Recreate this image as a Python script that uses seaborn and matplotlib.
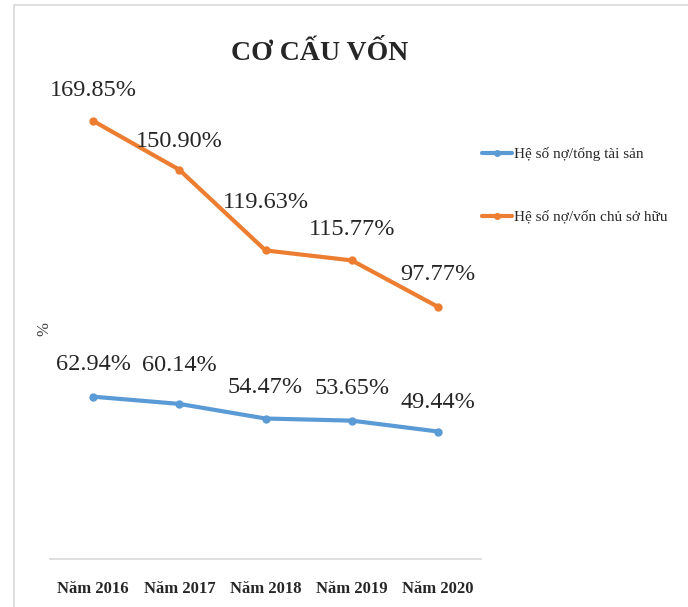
import matplotlib
matplotlib.use("Agg")
import matplotlib.pyplot as plt
import seaborn as sns
import pandas as pd
from matplotlib.patches import Rectangle

# Chart data
years = ["Năm 2016", "Năm 2017", "Năm 2018", "Năm 2019", "Năm 2020"]
debt_to_assets = [62.94, 60.14, 54.47, 53.65, 49.44]
debt_to_equity = [169.85, 150.90, 119.63, 115.77, 97.77]
series_names = ["Hệ số nợ/tổng tài sản", "Hệ số nợ/vốn chủ sở hữu"]
colors = ["#5B9BD5", "#ED7D31"]

# label offsets above each point (pixels), as placed in the original chart
assets_label_px = [22, 28, 21, 22, 19]
equity_label_px = [20, 18, 37, 20, 22]

df = pd.concat([
    pd.DataFrame({"Năm": years, "value": debt_to_assets, "series": series_names[0]}),
    pd.DataFrame({"Năm": years, "value": debt_to_equity, "series": series_names[1]}),
])

sns.set_style("white")
plt.rcParams["font.family"] = ["Liberation Serif", "DejaVu Serif"]

fig = plt.figure(figsize=(6.88, 6.07), dpi=100)
ax = fig.add_axes([0.0727, 0.079, 0.6265, 0.85])

sns.lineplot(data=df, x="Năm", y="value", hue="series", palette=colors,
             marker="o", markersize=6, markeredgewidth=0, linewidth=3,
             sort=False, ax=ax, legend=False)

ax.set_xlim(-0.5, len(years) - 0.5)
ax.set_ylim(0, 200)

# data labels
for vals, offs in [(debt_to_assets, assets_label_px), (debt_to_equity, equity_label_px)]:
    for i, v in enumerate(vals):
        ax.annotate(f"{v:.2f}%", (i, v), xytext=(0, offs[i] * 0.72),
                    textcoords="offset points", ha="center", va="bottom",
                    fontsize=17.5, color="#262626")

for side in ["top", "right", "left"]:
    ax.spines[side].set_visible(False)
ax.spines["bottom"].set_color("#d9d9d9")
ax.spines["bottom"].set_linewidth(1.2)
ax.set_yticks([])
ax.tick_params(axis="x", length=0, pad=16)
for lbl in ax.get_xticklabels():
    lbl.set_fontweight("bold")
    lbl.set_fontsize(12)
ax.set_xlabel("")
ax.set_ylabel("%", fontsize=12, color="#404040")
ax.yaxis.set_label_coords(0.005, 0.445)

# legend
handles = [plt.Line2D([], [], color=c, linewidth=3, marker="o", markersize=5,
                      markeredgewidth=0) for c in colors]
fig.legend(handles, series_names, loc="upper left", bbox_to_anchor=(0.68, 0.78),
           frameon=False, fontsize=11, handlelength=2.0, handletextpad=0.15,
           labelspacing=3.2)

fig.text(0.465, 0.912, "CƠ CẤU VỐN", ha="center", va="center",
         fontsize=20, fontweight="bold")

# outer frame
fig.patches.append(Rectangle((14 / 688, -0.1), 1.2, 1 - 5 / 607 + 0.1,
                             transform=fig.transFigure, fill=False,
                             edgecolor="#d9d9d9", linewidth=1.2))

fig.savefig("out.png", dpi=100)
